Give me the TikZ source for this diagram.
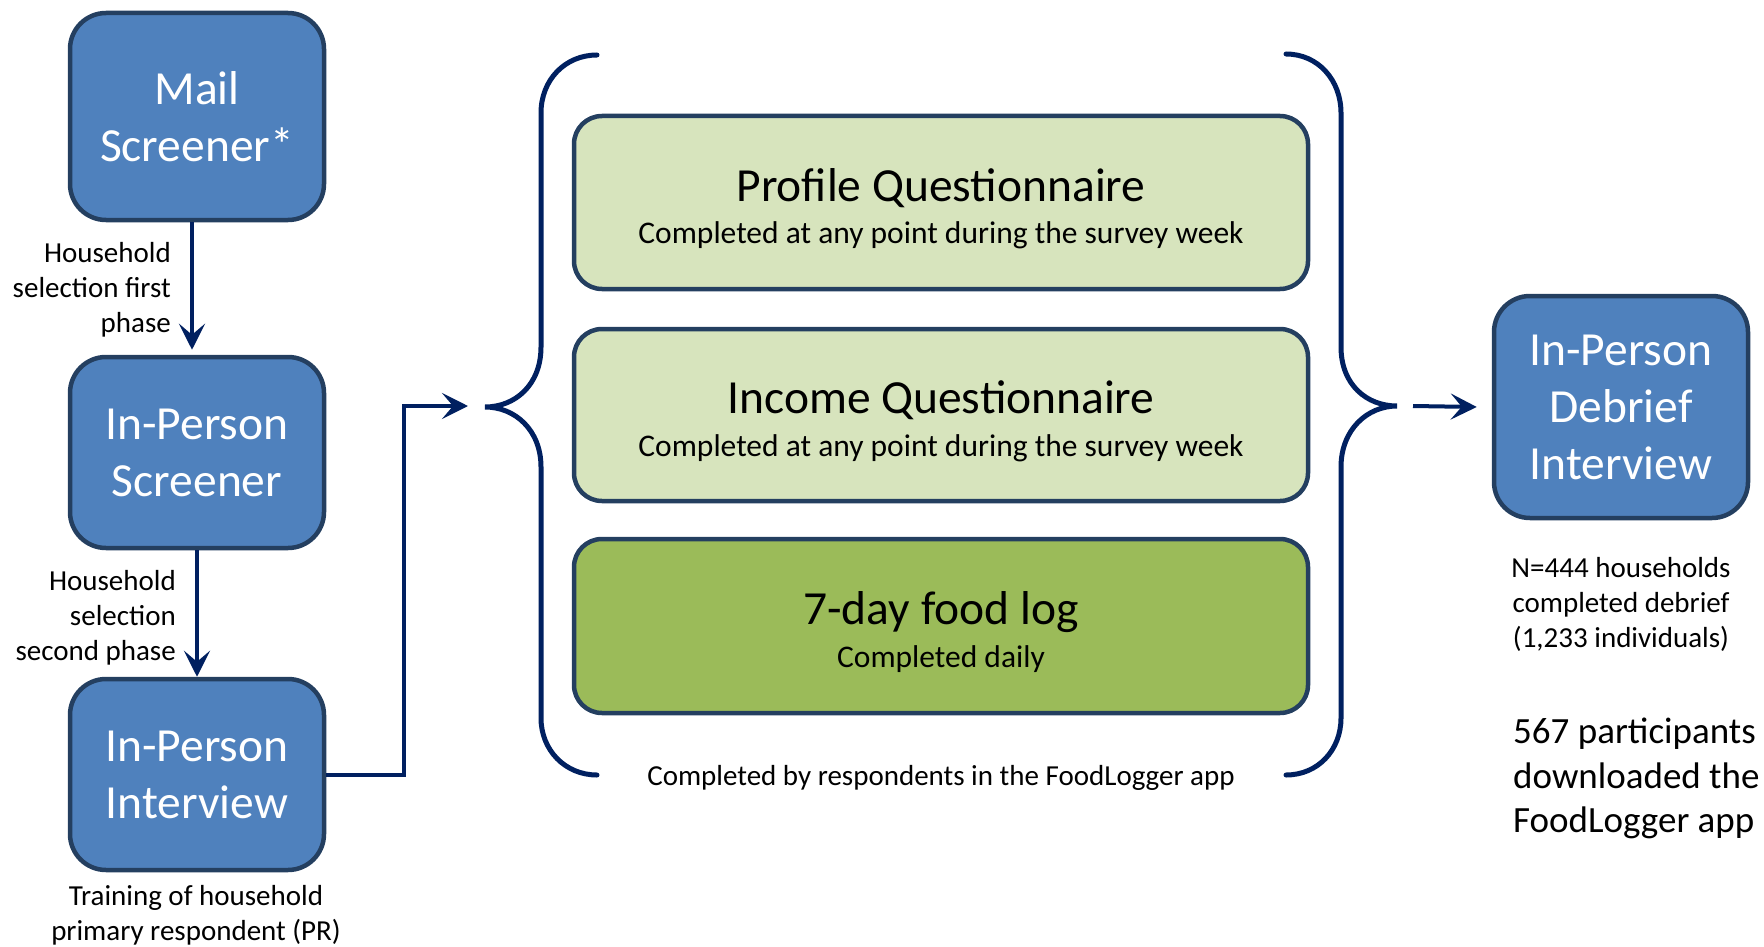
\documentclass[tikz,border=0pt]{standalone}
\usepackage{fontspec}
\setmainfont{Carlito}
\usetikzlibrary{arrows.meta}

\definecolor{boxblue}{HTML}{4F81BD}
\definecolor{boxedge}{HTML}{243F60}
\definecolor{navy}{HTML}{002060}
\definecolor{palegreen}{HTML}{D7E4BD}
\definecolor{olivegreen}{HTML}{9BBB59}

\newcommand{\fsz}[2]{\fontsize{#1}{#2}\selectfont}

\begin{document}
\begin{tikzpicture}[x=1pt,y=-1pt,
  stagebox/.style={draw=boxedge, line width=4.5pt, fill=boxblue, rounded corners=36pt,
    minimum width=254pt, text=white, align=center, font=\fsz{47.5}{57}, inner sep=0pt},
  taskbox/.style={draw=boxedge, line width=4.5pt, rounded corners=28pt,
    minimum width=734pt, inner sep=0pt},
  tasktitle/.style={font=\fsz{47.5}{57}, anchor=base, inner sep=0pt},
  tasksub/.style={font=\fsz{31.5}{38}, anchor=base, inner sep=0pt},
  note/.style={font=\fsz{29}{35}, inner sep=0pt},
  conn/.style={draw=navy, line width=4pt, -{Stealth[length=26pt,width=26pt,inset=11pt]}},
  bracket/.style={draw=navy, line width=5pt, line cap=round}]

\useasboundingbox (0,0) rectangle (1764,947);

% screening and interview stages
\node[stagebox, minimum height=207pt] (mail) at (197,116.5) {Mail\\Screener*};
\node[stagebox, minimum height=191pt] (ips) at (197,452.5) {In-Person\\Screener};
\node[stagebox, minimum height=191pt] (ipi) at (197,774.5) {In-Person\\Interview};
\node[stagebox, minimum height=222pt] (deb) at (1621,407) {In-Person\\Debrief\\Interview};

% labels on the left column
\node[note, anchor=east, align=right] (sel1) at (171,290) {Household\\selection first\\phase};
\node[note, anchor=east, align=right] (sel2) at (176,618) {Household\\selection\\second phase};
\node[note, align=center] (train) at (196,915.5) {Training of household\\primary respondent (PR)};

% app tasks
\node[taskbox, fill=palegreen, minimum height=173pt] (pq) at (941,202.5) {};
\node[tasktitle] (pqt) at ([yshift=1.5pt]pq.center) {Profile Questionnaire};
\node[tasksub] (pqs) at ([yshift=-41pt]pq.center) {Completed at any point during the survey week};

\node[taskbox, fill=palegreen, minimum height=172pt] (iq) at (941,415) {};
\node[tasktitle] (iqt) at ([yshift=1.5pt]iq.center) {Income Questionnaire};
\node[tasksub] (iqs) at ([yshift=-41pt]iq.center) {Completed at any point during the survey week};

\node[taskbox, fill=olivegreen, minimum height=174pt] (fl) at (941,626) {};
\node[tasktitle] (flt) at ([yshift=2pt]fl.center) {7-day food log};
\node[tasksub] (fls) at ([yshift=-41pt]fl.center) {Completed daily};

\node[note, anchor=base] (app) at (941,785) {Completed by respondents in the FoodLogger app};

% right-hand notes
\node[note, align=center] (nhh) at (1621,604) {N=444 households\\completed debrief\\(1,233 individuals)};
\node[font=\fsz{37}{44.5}, inner sep=0pt, align=left, anchor=west] (dl) at (1513,778.5) {567 participants\\downloaded the\\FoodLogger app};

% braces around the app tasks
\draw[bracket] (597,55) .. controls (565,55) and (541,80) .. (541,113)
  -- (541,347) .. controls (541,385) and (515,407) .. (485,407)
  .. controls (515,407) and (541,430) .. (541,467)
  -- (541,718) .. controls (541,750) and (565,775) .. (597,775);
\draw[bracket] (1286,54) .. controls (1318,54) and (1341,80) .. (1341,113)
  -- (1341,347) .. controls (1341,385) and (1367,406) .. (1397,406)
  .. controls (1367,406) and (1341,430) .. (1341,467)
  -- (1341,718) .. controls (1341,750) and (1318,775) .. (1286,775);

\coordinate (lbin) at (468,406);
\coordinate (rbout) at (1413,406);

% connectors
\draw[conn, shorten >=5pt] ([xshift=-5pt]mail.south) -- ([xshift=-5pt]ips.north);
\draw[conn] (ips.south) -- (ipi.north);
\draw[conn] (ipi.east) -- ++(78,0) |- (lbin);
\draw[conn] (rbout) -- ([xshift=-15pt]deb.west);

\end{tikzpicture}
\end{document}
